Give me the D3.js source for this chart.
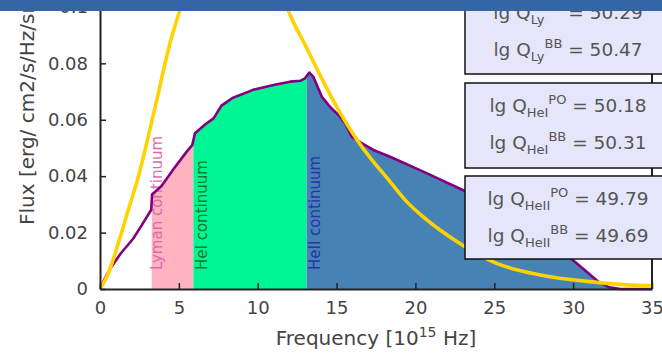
<!DOCTYPE html>
<html>
<head>
<meta charset="utf-8">
<script src="https://cdn.jsdelivr.net/npm/d3@7"></script>
<style>
  body { margin: 0; background: #fff; }
  svg { display: block; font-family: "DejaVu Sans", sans-serif; }
</style>
</head>
<body>
<div id="chart"></div>
<script>
// photoionisation (PO) spectrum, purple outline
const poFreq = [0, 0.6, 1.3, 2.1, 2.6, 3.25, 3.3, 3.9, 4.7, 5.5, 5.85, 6.02, 6.7, 7.2, 7.7, 8.4, 9.7, 11.0, 12.05, 12.7, 13.0, 13.27, 13.52, 14.06, 14.58, 15.22, 15.54, 15.96, 16.59, 17.33, 18.39, 20.5, 23.0, 25.0, 27.0, 28.5, 29.9, 30.86, 31.6, 32.3, 33.0, 35.0];
const poFlux = [0.0004, 0.0068, 0.0125, 0.0178, 0.0222, 0.0281, 0.0335, 0.0365, 0.0428, 0.0487, 0.051, 0.0552, 0.0585, 0.0605, 0.065, 0.0677, 0.0706, 0.0723, 0.0735, 0.0738, 0.0747, 0.0767, 0.0753, 0.0682, 0.0646, 0.0611, 0.0588, 0.054, 0.0517, 0.0493, 0.0469, 0.0416, 0.0351, 0.030, 0.024, 0.018, 0.0106, 0.0061, 0.0026, 0.0006, 0, 0];

// blackbody (BB) spectrum, yellow
const bbFreq = [0, 0.53, 1.16, 1.79, 2.43, 3.06, 3.7, 4.33, 5.07, 6, 7, 8, 9, 10, 11, 12.05, 13.1, 14.16, 15.22, 16.28, 17.2, 18.18, 19.34, 20.4, 21.56, 23.14, 25.15, 27.9, 31.07, 34.9, 35.0];
const bbFlux = [0, 0.0056, 0.0162, 0.028, 0.0398, 0.054, 0.0694, 0.0848, 0.0989, 0.113, 0.124, 0.13, 0.131, 0.125, 0.113, 0.0972, 0.0855, 0.0735, 0.0625, 0.053, 0.046, 0.0395, 0.0316, 0.026, 0.0209, 0.015, 0.0091, 0.005, 0.0026, 0.0012, 0.0012];

// continuum bands
const bandNames = ["Lyman continuum", "HeI continuum", "HeII continuum"];
const bandStart = [3.28, 5.92, 13.1];
const bandEnd = [5.92, 13.1, 35];
const bandFill = ["#ffb3c0", "#00f595", "#4682b4"];
const bandText = ["#e068ae", "#127a2a", "#2a32a8"];
const bandLabelX = [3.6, 6.45, 13.62];

// ionising photon rates
const qIon = ["Ly", "HeI", "HeII"];
const qPO = ["50.29", "50.18", "49.79"];
const qBB = ["50.47", "50.31", "49.69"];

const xTicks = [0, 5, 10, 15, 20, 25, 30, 35];
const yTicks = [0, 0.02, 0.04, 0.06, 0.08, 0.1];

const width = 662, height = 358;
const svg = d3.select("#chart").append("svg")
  .attr("width", width).attr("height", height);

const x = d3.scaleLinear().domain([0, 35]).range([100, 652]);
const y = d3.scaleLinear().domain([0, 0.1]).range([289, 6.9]);

const po = poFreq.map((f, i) => ({ f, v: poFlux[i] }));
const bb = bbFreq.map((f, i) => ({ f, v: bbFlux[i] }));

const defs = svg.append("defs");
bandNames.forEach((n, i) => {
  defs.append("clipPath").attr("id", "band" + i)
    .append("rect")
    .attr("x", x(bandStart[i])).attr("y", 0)
    .attr("width", x(bandEnd[i]) - x(bandStart[i]))
    .attr("height", y(0));
});

const area = d3.area().x(d => x(d.f)).y0(y(0)).y1(d => y(d.v));
bandNames.forEach((n, i) => {
  svg.append("path").datum(po)
    .attr("clip-path", `url(#band${i})`)
    .attr("fill", bandFill[i])
    .attr("d", area);
});

// band labels
bandNames.forEach((n, i) => {
  svg.append("text")
    .attr("transform", `translate(${x(bandLabelX[i])},270) rotate(-90)`)
    .attr("dy", "0.35em")
    .attr("font-size", 15)
    .attr("fill", bandText[i])
    .text(n);
});

const line = d3.line().x(d => x(d.f)).y(d => y(d.v));
svg.append("path").datum(po)
  .attr("fill", "none").attr("stroke", "#800080")
  .attr("stroke-width", 2.6).attr("stroke-linejoin", "round")
  .attr("d", line);
svg.append("path").datum(bb)
  .attr("fill", "none").attr("stroke", "#ffd200")
  .attr("stroke-width", 3.6)
  .attr("d", line.curve(d3.curveMonotoneX));

// axes
const xAxis = svg.append("g")
  .attr("transform", `translate(0,${y(0)})`)
  .call(d3.axisBottom(x).tickValues(xTicks).tickSize(-6).tickSizeOuter(0).tickPadding(12));
const yAxis = svg.append("g")
  .attr("transform", `translate(${x(0)},0)`)
  .call(d3.axisLeft(y).tickValues(yTicks).tickSize(-6).tickSizeOuter(0).tickPadding(12).tickFormat(d3.format("~g")));
[xAxis, yAxis].forEach(g => {
  g.select(".domain").attr("stroke", "#222").attr("stroke-width", 2);
  g.selectAll(".tick line").attr("stroke", "#222").attr("stroke-width", 1.5);
  g.selectAll(".tick text").attr("fill", "#444").attr("font-size", 18)
    .attr("font-family", "DejaVu Sans, sans-serif");
});
svg.append("line")
  .attr("x1", x(35)).attr("x2", x(35)).attr("y1", y(0)).attr("y2", y(0.1))
  .attr("stroke", "#222").attr("stroke-width", 2);

// axis titles
const xt = svg.append("text")
  .attr("x", (x(0) + x(35)) / 2).attr("y", 345)
  .attr("text-anchor", "middle").attr("font-size", 20).attr("fill", "#444");
xt.append("tspan").text("Frequency [10");
xt.append("tspan").attr("font-size", 14).attr("dy", -8).text("15");
xt.append("tspan").attr("dy", 8).text(" Hz]");

svg.append("text")
  .attr("transform", "translate(27,225) rotate(-90)")
  .attr("dy", "0.35em")
  .attr("font-size", 20).attr("fill", "#444")
  .text("Flux [erg/ cm2/s/Hz/sr]");

// Q boxes
const boxTop = [-10, 83, 176];
const boxH = [84, 85, 83];
qIon.forEach((q, i) => {
  svg.append("rect")
    .attr("x", 465).attr("y", boxTop[i])
    .attr("width", 215).attr("height", boxH[i])
    .attr("fill", "#e6e6fa").attr("stroke", "#111").attr("stroke-width", 1.5);
  [["PO", qPO[i]], ["BB", qBB[i]]].forEach((r, j) => {
    const t = svg.append("text")
      .attr("x", 568).attr("y", boxTop[i] + 29 + j * 37)
      .attr("text-anchor", "middle").attr("font-size", 18.5).attr("fill", "#555");
    t.append("tspan").text("lg Q");
    t.append("tspan").attr("font-size", 13).attr("dy", 5).text(q);
    t.append("tspan").attr("font-size", 13).attr("dy", -13).text(r[0]);
    t.append("tspan").attr("dy", 8).text(" = " + r[1]);
  });
});

// top banner
svg.append("rect")
  .attr("x", 0).attr("y", 0).attr("width", width).attr("height", 11)
  .attr("fill", "#3465a5");
</script>
</body>
</html>
